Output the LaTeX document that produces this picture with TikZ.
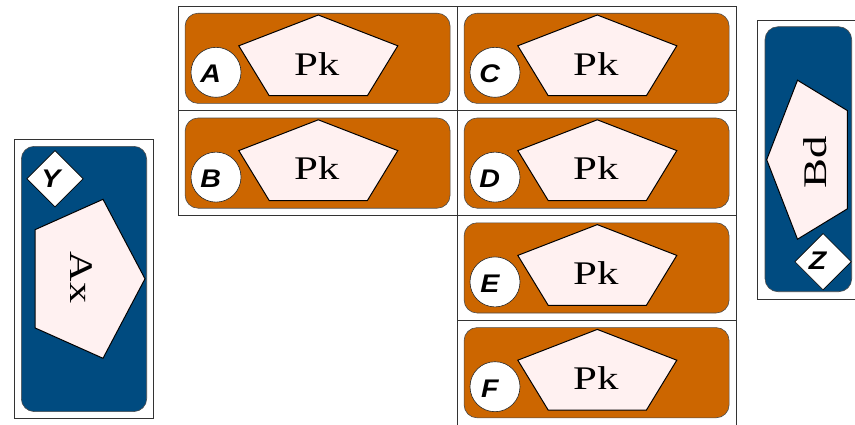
\documentclass[tikz,border=0pt]{standalone}
\usepackage{fontspec}
\usetikzlibrary{shapes.geometric}
\newfontfamily\lettfont{Liberation Sans}
\newfontfamily\pkfont{Liberation Serif}
\definecolor{cardorange}{RGB}{204,102,0}
\definecolor{cardblue}{RGB}{0,75,128}
\definecolor{pentapink}{RGB}{255,241,241}
\tikzset{
  frame/.style={draw=black!80, line width=0.9pt},
  opanel/.style={fill=cardorange, draw=black!70, line width=0.6pt, rounded corners=13pt},
  bpanel/.style={fill=cardblue, draw=black!70, line width=0.6pt, rounded corners=13pt},
  penta/.style={fill=pentapink, draw=black, line width=1pt, line join=miter},
  badge/.style={circle, fill=white, draw=black!85, line width=0.6pt, minimum size=50pt, inner sep=0pt},
  diam/.style={diamond, aspect=1, fill=white, draw=black, line width=0.6pt, minimum size=56.5pt, inner sep=0pt},
  lett/.style={font=\lettfont\fontsize{25.5}{25.5}\selectfont\bfseries\itshape, inner sep=0pt},
  bigtext/.style={font=\pkfont\fontsize{33}{33}\selectfont, inner sep=0pt},
}
\newcommand\pkcell[3]{%
  \begin{scope}[shift={(#1,#2)}]
    \draw[frame] (0,0) rectangle (279,104.8);
    \draw[opanel] (6.8,7.2) rectangle (271.8,97.4);
    \draw[penta] (140,9) -- (219.5,39.8) -- (189.1,89.7) -- (90.9,89.7) -- (60.5,39.8) -- cycle;
    \node[bigtext, anchor=base] (pk#3) at (138.5,69) {\scalebox{1.3}[1]{Pk}};
    \node[badge] (badge#3) at (37.7,66.3) {};
    \node[lett] (lett#3) at (32.5,67.9) {\scalebox{1.12}[1]{#3}};
  \end{scope}}
\begin{document}
\begin{tikzpicture}[x=1pt,y=-1pt]
\clip (0,0) rectangle (855,424);
% six cards
\pkcell{178.3}{6}{A}
\pkcell{178.3}{110.8}{B}
\pkcell{457.3}{6}{C}
\pkcell{457.3}{110.8}{D}
\pkcell{457.3}{215.6}{E}
\pkcell{457.3}{320.4}{F}
% left card
\draw[frame] (14.7,139.5) rectangle (153.3,418.3);
\draw[bpanel] (21.3,146.3) rectangle (146.7,411.6);
\draw[penta] (145,278.8) -- (103,199.3) -- (35,229.7) -- (35,327.9) -- (103,358.3) -- cycle;
\node[bigtext, rotate=-90, anchor=base] (ax) at (70.5,277.5) {\scalebox{1.28}[1]{Ax}};
\node[diam] (dy) at (55,178.7) {};
\node[lett] (ly) at (51,178.7) {\scalebox{1.12}[1]{Y}};
% right card
\draw[frame] (757.3,20) rectangle (859,299);
\draw[bpanel] (765,26.7) rectangle (851.7,291.7);
\draw[penta] (766.7,159.7) -- (797.5,80.2) -- (847.4,110.6) -- (847.4,208.8) -- (797.5,239.2) -- cycle;
\node[bigtext, rotate=90, anchor=base] (bd) at (826.7,162.5) {\scalebox{1.36}[1]{Bd}};
\node[diam] (dz) at (823,261.7) {};
\node[lett] (lz) at (817.5,260.8) {\scalebox{1.12}[1]{Z}};
\end{tikzpicture}
\end{document}
